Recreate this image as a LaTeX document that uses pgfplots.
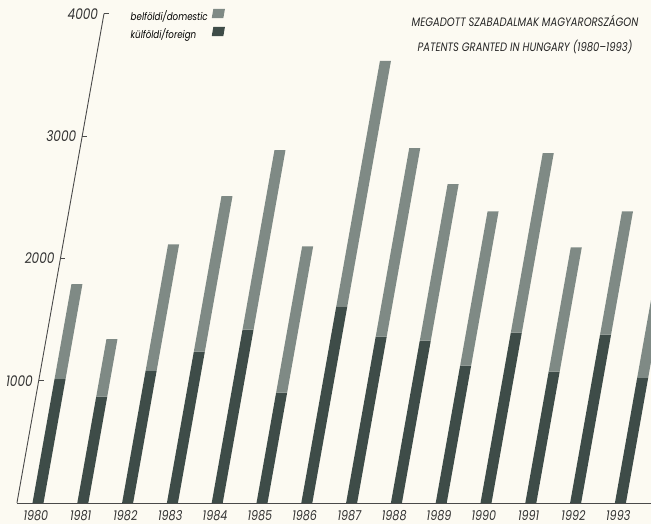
\documentclass[border=0pt]{standalone}
\usepackage{pgfplots}
\pgfplotsset{compat=1.18}
\usepackage{fontspec}
\setmainfont{Poppins}[FakeStretch=0.82]
\definecolor{domc}{HTML}{7F8A85}
\definecolor{forc}{HTML}{3E4C48}
\definecolor{paper}{HTML}{FCFAF2}
\definecolor{axisc}{HTML}{4A4A4A}

\begin{document}
\begin{tikzpicture}[trim left=-19pt, trim right=306.5pt]
\fill[paper] (-19pt,-10.5pt) rectangle (306.5pt,251.5pt);
\begin{axis}[
  at={(0pt,0pt)}, anchor=origin, clip=false,
  x={(22.4pt,0pt)}, y={(0.010885pt,0.06115pt)},
  xmin=-0.47, xmax=14, ymin=0, ymax=4000,
  axis x line*=bottom, axis y line*=left,
  axis line style={axisc, line width=0.45pt},
  ytick={1000,2000,3000,4000}, ytick pos=left,
  tick align=inside, major tick length=2.5pt,
  ytick style={axisc, line width=0.45pt},
  xtick={0,1,...,13}, xtick style={draw=none},
  xticklabels={1980,1981,1982,1983,1984,1985,1986,1987,1988,1989,1990,1991,1992,1993},
  /pgf/number format/assume math mode=true,
  /pgf/number format/1000 sep={},
  tick label style={text=black!80},
  xticklabel style={font=\fontsize{6.8}{8}\selectfont\itshape, yshift=0pt},
  yticklabel style={font=\fontsize{7.4}{8}\selectfont\itshape, xshift=0.6pt},
  unbounded coords=jump,
  legend plot pos=right, reverse legend,
  legend style={at={(axis cs:0,4060)}, anchor=north west, draw=none, fill=none,
    inner sep=0pt, font=\fontsize{5.3}{6}\selectfont\itshape, row sep=-1.5pt,
    /tikz/every even column/.append style={column sep=3.5pt}},
  legend cell align=left,
  legend image code/.code={\fill[#1,draw=none] (0pt,-0.4pt) -- (5.8pt,-0.4pt) -- (6.6pt,4.2pt) -- (0.8pt,4.2pt) -- cycle;},
]
% foreign (bottom segment of each bar)
\addplot[fill=forc, draw=none] coordinates {
(-0.123,0) (0.123,0) (0.123,1015) (-0.123,1015) (nan,nan)
(0.877,0) (1.123,0) (1.123,870) (0.877,870) (nan,nan)
(1.877,0) (2.123,0) (2.123,1080) (1.877,1080) (nan,nan)
(2.877,0) (3.123,0) (3.123,1238) (2.877,1238) (nan,nan)
(3.877,0) (4.123,0) (4.123,1418) (3.877,1418) (nan,nan)
(4.877,0) (5.123,0) (5.123,902) (4.877,902) (nan,nan)
(5.877,0) (6.123,0) (6.123,1607) (5.877,1607) (nan,nan)
(6.877,0) (7.123,0) (7.123,1361) (6.877,1361) (nan,nan)
(7.877,0) (8.123,0) (8.123,1328) (7.877,1328) (nan,nan)
(8.877,0) (9.123,0) (9.123,1123) (8.877,1123) (nan,nan)
(9.877,0) (10.123,0) (10.123,1393) (9.877,1393) (nan,nan)
(10.877,0) (11.123,0) (11.123,1074) (10.877,1074) (nan,nan)
(11.877,0) (12.123,0) (12.123,1377) (11.877,1377) (nan,nan)
(12.877,0) (13.123,0) (13.123,1022) (12.877,1022)
};
\addlegendentry{külföldi/foreign}
% domestic (upper segment, from foreign to total)
\addplot[fill=domc, draw=none] coordinates {
(-0.123,1015) (0.123,1015) (0.123,1790) (-0.123,1790) (nan,nan)
(0.877,870) (1.123,870) (1.123,1340) (0.877,1340) (nan,nan)
(1.877,1080) (2.123,1080) (2.123,2115) (1.877,2115) (nan,nan)
(2.877,1238) (3.123,1238) (3.123,2508) (2.877,2508) (nan,nan)
(3.877,1418) (4.123,1418) (4.123,2885) (3.877,2885) (nan,nan)
(4.877,902) (5.123,902) (5.123,2098) (4.877,2098) (nan,nan)
(5.877,1607) (6.123,1607) (6.123,3615) (5.877,3615) (nan,nan)
(6.877,1361) (7.123,1361) (7.123,2902) (6.877,2902) (nan,nan)
(7.877,1328) (8.123,1328) (8.123,2607) (7.877,2607) (nan,nan)
(8.877,1123) (9.123,1123) (9.123,2385) (8.877,2385) (nan,nan)
(9.877,1393) (10.123,1393) (10.123,2861) (9.877,2861) (nan,nan)
(10.877,1074) (11.123,1074) (11.123,2090) (10.877,2090) (nan,nan)
(11.877,1377) (12.123,1377) (12.123,2385) (11.877,2385) (nan,nan)
(12.877,1022) (13.123,1022) (13.123,2100) (12.877,2100)
};
\addlegendentry{belföldi/domestic}
\node[align=center, font=\fontsize{6.1}{12.5}\selectfont\itshape, text=black!85]
  at (axis cs:9.01,3831)
  {MEGADOTT SZABADALMAK MAGYARORSZÁGON\\PATENTS GRANTED IN HUNGARY (1980--1993)};
\end{axis}
\end{tikzpicture}
\end{document}
